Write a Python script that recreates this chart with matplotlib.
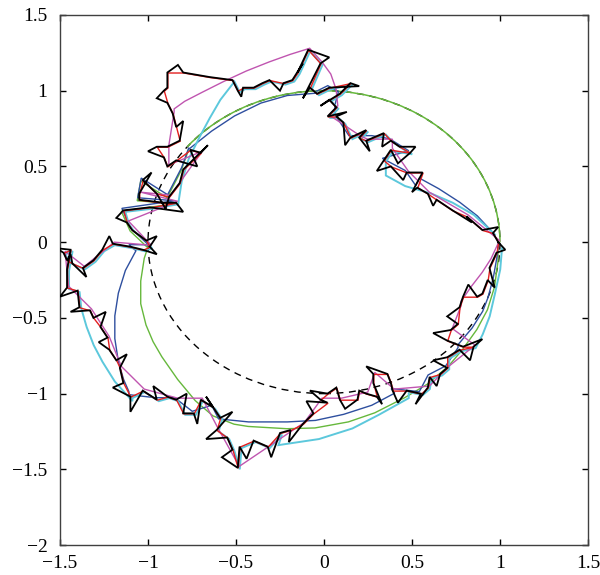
import numpy as np
import matplotlib
matplotlib.use("Agg")
import matplotlib.pyplot as plt
import matplotlib.patches as mpatches
import matplotlib.path as mpath
import matplotlib.transforms as mtrans

# Jagged closed loop (black), counter-clockwise from (1, 0) ==================
loop_x = [0.99, 0.96, 0.90, 0.81, 0.73, 0.64, 0.59, 0.53, 0.56, 0.47,
          0.38, 0.34, 0.38, 0.49, 0.43, 0.38, 0.34, 0.28, 0.24, 0.20,
          0.24, 0.15, 0.11, 0.07, 0.02, 0.07, 0.03, 0.09, 0.15, 0.03,
          -0.04, -0.08, -0.02, -0.09, -0.15, -0.18, -0.23, -0.31, -0.35, -0.40,
          -0.46, -0.49, -0.52, -0.65, -0.80, -0.89, -0.89, -0.91, -0.89, -0.86,
          -0.84, -0.82, -0.89, -0.95, -0.91, -0.89, -0.84, -0.76, -0.70, -0.80,
          -0.82, -0.88, -0.95, -1.03, -1.05, -1.05, -0.91, -0.84, -0.99, -1.14,
          -1.12, -1.09, -1.01, -0.99, -1.03, -1.10, -1.20, -1.26, -1.31, -1.37,
          -1.43, -1.46, -1.48, -1.44, -1.46, -1.46, -1.40, -1.39, -1.33, -1.31,
          -1.27, -1.23, -1.22, -1.18, -1.16, -1.14, -1.10, -1.03, -0.95, -0.89,
          -0.84, -0.80, -0.74, -0.70, -0.63, -0.59, -0.61, -0.55, -0.52, -0.49,
          -0.48, -0.40, -0.32, -0.25, -0.19, -0.12, -0.06, 0.02, -0.02, 0.02,
          0.07, 0.09, 0.19, 0.20, 0.24, 0.30, 0.28, 0.28, 0.36, 0.38,
          0.39, 0.47, 0.55, 0.59, 0.60, 0.66, 0.70, 0.70, 0.77, 0.85,
          0.79, 0.70, 0.72, 0.76, 0.77, 0.79, 0.87, 0.90, 0.93, 0.94,
          0.98, 0.99]
loop_y = [0.00, 0.06, 0.08, 0.17, 0.21, 0.28, 0.32, 0.36, 0.46, 0.46,
          0.50, 0.54, 0.61, 0.59, 0.63, 0.67, 0.72, 0.69, 0.67, 0.69,
          0.74, 0.69, 0.79, 0.83, 0.83, 0.89, 0.94, 0.98, 1.05, 1.02,
          0.98, 1.02, 1.18, 1.27, 1.12, 1.07, 1.05, 1.07, 1.05, 1.02,
          1.02, 1.00, 1.07, 1.09, 1.12, 1.12, 1.02, 1.00, 0.92, 0.85,
          0.76, 0.67, 0.63, 0.63, 0.56, 0.50, 0.54, 0.61, 0.59, 0.48,
          0.39, 0.30, 0.32, 0.41, 0.32, 0.28, 0.26, 0.26, 0.23, 0.21,
          0.13, 0.08, 0.01, -0.03, -0.05, -0.03, -0.01, -0.05, -0.12, -0.17,
          -0.14, -0.12, -0.07, -0.05, -0.18, -0.30, -0.32, -0.43, -0.45, -0.50,
          -0.56, -0.63, -0.71, -0.78, -0.83, -0.93, -1.02, -0.98, -1.04, -1.02,
          -1.04, -1.13, -1.13, -1.04, -1.09, -1.16, -1.24, -1.29, -1.37, -1.49,
          -1.35, -1.31, -1.35, -1.26, -1.24, -1.20, -1.13, -1.06, -1.04, -1.00,
          -0.96, -1.04, -1.04, -0.98, -1.00, -1.02, -0.93, -0.87, -0.87, -0.93,
          -0.98, -0.98, -1.00, -0.96, -0.89, -0.87, -0.83, -0.76, -0.71, -0.69,
          -0.69, -0.65, -0.58, -0.54, -0.43, -0.36, -0.36, -0.34, -0.25, -0.17,
          -0.07, 0.00]

# small excursions of the fine loop: taken after loop point spike_at[k]
spike_at = [1, 3, 5, 7, 9, 10, 12, 13, 15, 18, 21, 23, 26, 28, 31, 32, 34, 36,
            40, 44, 47, 50, 53, 56, 58, 61, 63, 67, 69, 72, 73, 76, 79, 80, 82,
            85, 87, 89, 91, 93, 95, 96, 98, 100, 102, 104, 105, 106, 108, 110,
            112, 114, 116, 118, 121, 125, 127, 130, 132, 134, 136, 138, 139,
            141, 143, 145, 148, 150]
spike_x = [0.99, 0.84, 0.62, 0.50, 0.45, 0.30, 0.42, 0.52, 0.33, 0.26, 0.12,
           0.13, -0.02, 0.20, -0.12, 0.03, -0.12, -0.25, -0.47, -0.83, -0.95,
           -0.80, -1.00, -0.72, -0.66, -0.90, -0.98, -0.80, -1.18, -0.95, -0.95,
           -1.22, -1.35, -1.44, -1.52, -1.50, -1.44, -1.24, -1.28, -1.12, -1.20,
           -1.10, -0.97, -0.78, -0.72, -0.67, -0.52, -0.67, -0.58, -0.44, -0.30,
           -0.20, -0.10, -0.08, 0.12, 0.33, 0.24, 0.42, 0.52, 0.64, 0.62, 0.83,
           0.90, 0.62, 0.70, 0.82, 0.97, 1.03]
spike_y = [0.10, 0.13, 0.24, 0.33, 0.41, 0.47, 0.52, 0.63, 0.63, 0.60, 0.64,
           0.86, 0.90, 1.03, 0.95, 1.22, 1.18, 1.00, 0.96, 1.17, 0.95, 0.80,
           0.60, 0.50, 0.64, 0.22, 0.46, 0.20, 0.16, 0.04, -0.08, 0.04, -0.23,
           -0.08, -0.04, -0.36, -0.46, -0.46, -0.66, -0.74, -0.96, -1.12, -0.95,
           -1.00, -1.20, -1.02, -1.12, -1.30, -1.42, -1.43, -1.42, -1.32, -1.05,
           -0.98, -1.10, -1.07, -0.82, -1.06, -1.07, -0.95, -0.78, -0.78, -0.64,
           -0.60, -0.49, -0.28, -0.30, -0.05]

# Smooth stretches of the coarser curves (traced waypoints) ===================
green_inner = [(-0.99, -0.03), (-1.01, -0.10), (-1.03, -0.25), (-1.03, -0.40),
               (-1.00, -0.54), (-0.96, -0.65), (-0.91, -0.75), (-0.82, -0.90),
               (-0.72, -1.04), (-0.62, -1.14), (-0.50, -1.195)]
green_outer = [(-0.42, -1.21), (-0.20, -1.225), (-0.04, -1.22), (0.15, -1.18),
               (0.30, -1.12), (0.47, -1.02), (0.60, -0.93), (0.72, -0.81),
               (0.80, -0.70), (0.88, -0.57), (0.94, -0.44), (0.98, -0.29),
               (1.00, -0.12), (1.00, 0.00)]
green_top_deg = (0, 141)

blue_right_up = [(0.96, 0.06), (0.88, 0.16), (0.78, 0.25), (0.66, 0.34), (0.55, 0.41)]
blue_top = [(-0.04, 0.97), (-0.20, 0.955), (-0.35, 0.905), (-0.50, 0.82),
            (-0.63, 0.72), (-0.76, 0.60)]
blue_left = [(-1.06, -0.07), (-1.12, -0.20), (-1.16, -0.35), (-1.18, -0.50),
             (-1.18, -0.65), (-1.16, -0.80), (-1.13, -0.92), (-1.10, -1.00)]
blue_bottom = [(-0.59, -1.18), (-0.42, -1.20), (-0.20, -1.20), (-0.04, -1.19),
               (0.12, -1.15), (0.28, -1.09), (0.41, -1.01)]
blue_right_low = [(0.77, -0.69), (0.85, -0.58), (0.91, -0.47), (0.94, -0.38),
                  (0.97, -0.25), (0.99, -0.12), (1.00, -0.02)]

cyan_right_up = [(0.96, 0.06), (0.84, 0.19), (0.72, 0.27), (0.60, 0.33),
                 (0.45, 0.38), (0.34, 0.45)]
cyan_top_left = [(-0.52, 1.07), (-0.60, 0.95), (-0.66, 0.83), (-0.72, 0.70),
                 (-0.78, 0.56), (-0.82, 0.41), (-0.84, 0.26)]
cyan_left = [(-1.39, -0.43), (-1.36, -0.55), (-1.32, -0.67), (-1.27, -0.78),
             (-1.20, -0.91), (-1.10, -1.04)]
cyan_bottom = [(-0.27, -1.33), (-0.04, -1.29), (0.15, -1.22), (0.30, -1.13),
               (0.47, -1.02)]
cyan_right_low = [(0.85, -0.69), (0.89, -0.60), (0.93, -0.48), (0.96, -0.33),
                  (0.99, -0.17), (1.00, -0.03)]

mag_right = [(0.77, -0.40), (0.83, -0.30), (0.89, -0.21), (0.94, -0.12), (0.98, -0.02)]
mag_hook = [(0.07, 0.89), (0.06, 1.00), (0.03, 1.10), (-0.02, 1.18), (-0.09, 1.27)]
mag_top = [(-0.09, 1.27), (-0.20, 1.23), (-0.32, 1.18), (-0.45, 1.12),
           (-0.58, 1.05), (-0.70, 0.98), (-0.80, 0.92), (-0.86, 0.87)]

# colours
c_black = "black"
c_red = "#e31f1f"
c_mag = "#c055b0"
c_cyan = "#5cc8dc"
c_blue = "#2e4f9f"
c_green = "#66b83c"


def walk(a, b, step):
    idx = list(range(a, b, step)) + [b]
    return [(loop_x[i], loop_y[i]) for i in idx]


def draw(ax, pieces, color, lw=1.0, shift=(0, 0)):
    pts = []
    for p in pieces:
        pts.extend(p)
    pts = np.array(pts)
    tr = mtrans.offset_copy(ax.transData, fig=ax.figure, x=shift[0], y=shift[1],
                            units="dots")
    ax.plot(pts[:, 0], pts[:, 1], color=color, lw=lw, solid_joinstyle="miter",
            transform=tr)


# fine loop = base loop with the excursions inserted
tips = dict(zip(spike_at, zip(spike_x, spike_y)))
fine = []
for i in range(len(loop_x)):
    fine.append((loop_x[i], loop_y[i]))
    if i in tips:
        fine.append(tips[i])
fine.append((loop_x[0], loop_y[0]))
fine = np.array(fine)

plt.rcParams["font.family"] = ["Liberation Serif", "DejaVu Serif"]
fig = plt.figure(figsize=(6, 5.75), dpi=100)
ax = fig.add_axes([0.1, 0.052, 0.88, 0.922])

# dashed unit circle
ax.add_patch(mpatches.Circle((0, 0), 1.0, fill=False, ls=(0, (5, 4)), lw=1.0,
                             ec="black", zorder=1))

# green
arc = mpath.Path.arc(*green_top_deg)
ax.add_patch(mpatches.PathPatch(arc, fill=False, ec=c_green, lw=1.1, zorder=2))
draw(ax, [walk(57, 73, 2), green_inner, green_outer], c_green, shift=(-2, -1))

# blue
draw(ax, [blue_right_up, walk(7, 30, 2), blue_top, walk(57, 75, 2), blue_left,
          walk(96, 104, 2), blue_bottom, walk(130, 138, 2), blue_right_low],
     c_blue, shift=(-1.5, 2))

# cyan
draw(ax, [cyan_right_up, walk(11, 42, 1), cyan_top_left, walk(67, 87, 1),
          cyan_left, walk(96, 113, 1), cyan_bottom, walk(131, 139, 1),
          cyan_right_low], c_cyan, lw=1.4, shift=(2, -1.5))

# magenta
draw(ax, [walk(0, 19, 3), walk(24, 25, 1), mag_hook, mag_top, walk(49, 109, 3),
          walk(115, 144, 3), mag_right], c_mag, shift=(1.5, 1.5))

# red
draw(ax, [walk(0, 150, 1), [(loop_x[0], loop_y[0])]], c_red, shift=(0.5, -0.5))

# black fine loop
ax.plot(fine[:, 0], fine[:, 1], color=c_black, lw=1.3, zorder=5,
        solid_joinstyle="miter")

ax.set_xlim(-1.5, 1.5)
ax.set_ylim(-2, 1.5)
xt = [-1.5, -1, -0.5, 0, 0.5, 1, 1.5]
yt = [-2, -1.5, -1, -0.5, 0, 0.5, 1, 1.5]
ax.set_xticks(xt)
ax.set_yticks(yt)
ax.set_xticklabels(["\u22121.5", "\u22121", "\u22120.5", "0", "0.5", "1", "1.5"])
ax.set_yticklabels(["\u22122", "\u22121.5", "\u22121", "\u22120.5", "0", "0.5", "1", "1.5"])
ax.tick_params(direction="in", length=4, width=1, top=True, right=True,
               labelsize=14, colors="black")
ax.tick_params(axis="x", pad=7)
ax.tick_params(axis="y", pad=9)
for s in ax.spines.values():
    s.set_color("#404040")
    s.set_linewidth(1.0)

fig.savefig("out.png", dpi=100)
